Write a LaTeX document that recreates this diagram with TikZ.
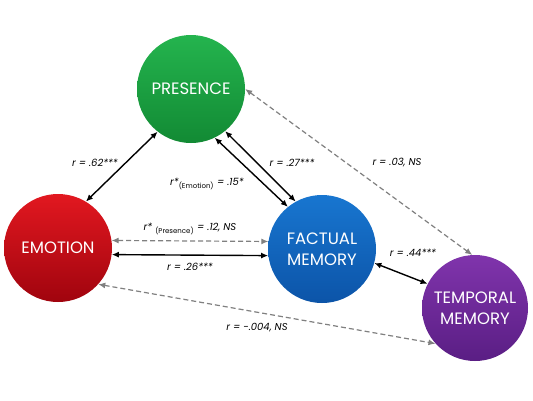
\documentclass[tikz,border=0pt]{standalone}
\usepackage{fontspec}
\setmainfont{Poppins}
\usetikzlibrary{arrows.meta}

\definecolor{grnTop}{RGB}{36,180,78}
\definecolor{grnBot}{RGB}{18,138,52}
\definecolor{redTop}{RGB}{226,24,32}
\definecolor{redBot}{RGB}{160,4,14}
\definecolor{bluTop}{RGB}{24,118,208}
\definecolor{bluBot}{RGB}{12,84,168}
\definecolor{purTop}{RGB}{128,52,172}
\definecolor{purBot}{RGB}{90,30,132}
\definecolor{dashGray}{RGB}{128,128,128}

\begin{document}
\begin{tikzpicture}[x=1pt,y=-1pt,
  ball/.style={circle,minimum size=108pt,inner sep=0pt,align=center,
    text=white,font=\fontsize{16.5}{20.5}\selectfont},
  corr/.style={black,line width=1.4pt,{Latex[length=7pt,width=6pt]}-{Latex[length=7pt,width=6pt]}},
  ns/.style={dashGray,line width=1.2pt,dash pattern=on 5pt off 3pt,
    {Latex[length=7pt,width=6pt]}-{Latex[length=7pt,width=6pt]}},
  lab/.style={font=\fontsize{10}{12}\selectfont\itshape}]
  \useasboundingbox (0,0) rectangle (533,400);
  \fill[white] (0,0) rectangle (533,400);

  \node[ball,top color=grnTop,bottom color=grnBot] (pres) at (191,89) {PRESENCE};
  \node[ball,top color=redTop,bottom color=redBot] (emo) at (58,248) {EMOTION};
  \node[ball,top color=bluTop,bottom color=bluBot] (fact) at (322,249) {FACTUAL\\MEMORY};
  \node[ball,top color=purTop,bottom color=purBot,minimum size=106pt] (temp) at (475,308) {TEMPORAL\\MEMORY};

  \draw[corr] (emo.59) -- (pres.232);
  \draw[corr] (pres.-64) -- (fact.129);
  \draw[corr] (pres.-51) -- (fact.119);
  \draw[ns] (emo.8) -- (fact.172);
  \draw[corr] (emo.-7) -- (fact.187);
  \draw[corr] (fact.-15) -- (temp.153);
  \draw[ns] (pres.0) -- (temp.93);
  \draw[ns] (emo.-42) -- (temp.-138);

  \node[lab] (l62) at (95,163) {r = .62***};
  \node[lab] (l27) at (292,163) {r = .27***};
  \node[lab] (l15) at (207,184) {r*\textsubscript{\upshape(Emotion)} = .15*};
  \node[lab] (l12) at (190,229) {r* \textsubscript{\upshape(Presence)} = .12, NS};
  \node[lab] (l26) at (190,267) {r = .26***};
  \node[lab] (l03) at (397,163) {r = .03, NS};
  \node[lab] (l44) at (413,253) {r = .44***};
  \node[lab] (l004) at (257,328) {r = -.004, NS};
\end{tikzpicture}
\end{document}
